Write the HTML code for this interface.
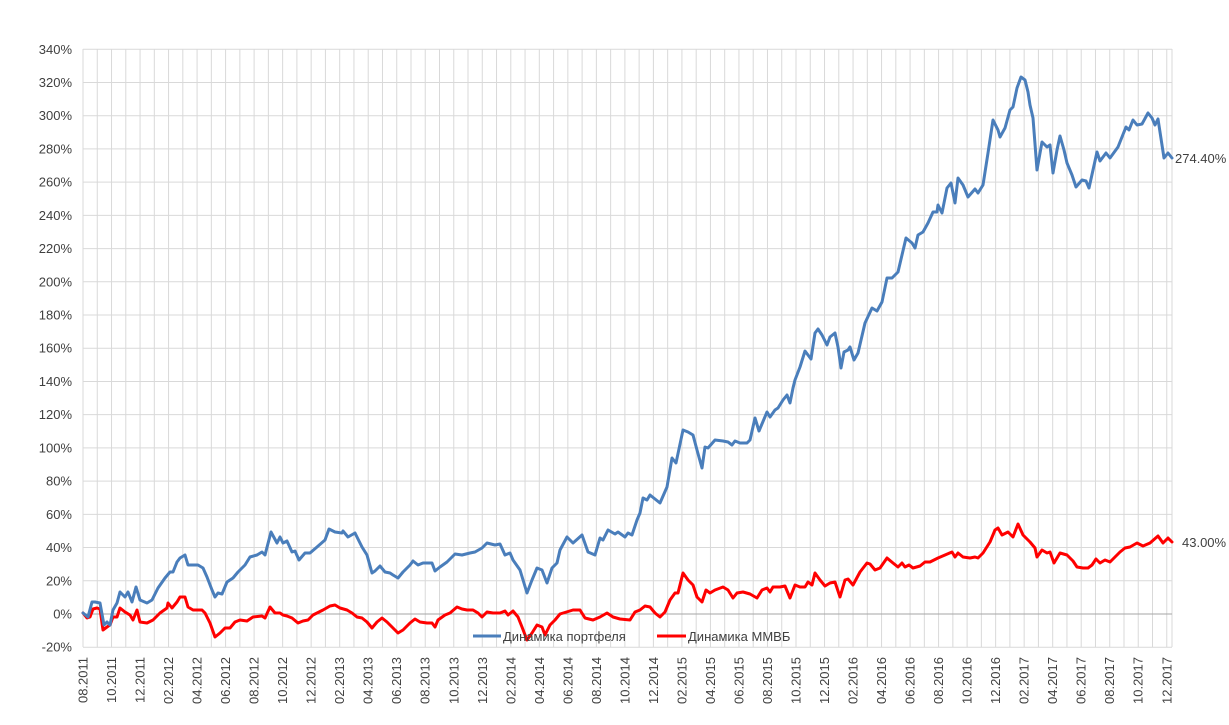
<!DOCTYPE html>
<html><head><meta charset="utf-8"><style>
html,body{margin:0;padding:0;background:#fff;}
svg{display:block;font-family:"Liberation Sans",sans-serif;}
</style></head><body>
<svg width="1229" height="725" viewBox="0 0 1229 725" xmlns="http://www.w3.org/2000/svg">
<g id="grid" stroke="#d9d9d9" stroke-width="1"></g>
<g id="ylab" font-size="13" fill="#404040" text-anchor="end"></g>
<g id="xlab" font-size="13" fill="#404040" text-anchor="end"></g>
<line x1="83" y1="614" x2="1172" y2="614" stroke="#a6a6a6" stroke-width="1"/>
<polyline fill="none" stroke="#ff0000" stroke-width="3" stroke-linejoin="round" stroke-linecap="round" points="
83,613 87,618 90,617 93,609 97,608 100,609 103,630 107,627 110,625 113,617 117,617 120,608 125,612 130,615 133,620 137,610 140,622 147,623 153,620 160,613 167,608 168,603 172,608 177,602 180,597 185,597 188,607 193,610 202,610 205,613 210,623 215,637 220,633 225,628 230,628 235,622 240,620 247,621 253,617 262,616 265,618 270,607 275,613 280,613 283,615 287,616 292,618 298,623 303,621 308,620 313,615 323,610 330,606 335,605 340,608 347,610 352,613 357,617 362,618 367,622 372,628 377,622 382,618 387,622 392,627 398,633 403,630 410,623 415,619 420,622 427,623 432,623 435,627 438,620 445,615 450,613 457,607 462,609 467,610 473,610 478,613 482,617 487,612 493,613 500,613 505,611 508,615 513,611 518,617 522,627 527,640 532,633 537,625 542,627 545,635 550,625 555,620 560,614 573,610 580,610 585,618 593,620 600,617 607,613 613,617 620,619 630,620 635,612 640,610 645,606 650,607 655,613 660,617 665,612 670,600 675,593 678,593 683,573 688,580 693,585 697,597 702,602 706,590 710,593 715,590 723,587 728,590 733,598 737,593 743,592 750,594 757,598 762,590 767,588 770,592 773,587 780,587 785,586 790,598 795,585 800,587 805,587 808,582 812,585 815,573 820,580 825,586 830,583 835,582 840,597 845,580 848,579 853,585 860,572 867,563 870,564 875,570 880,568 887,558 893,563 898,567 902,563 905,567 909,565 913,568 920,566 925,562 930,562 938,558 945,555 952,552 955,557 958,553 963,557 970,558 975,557 978,558 983,553 990,542 995,530 998,528 1002,535 1008,532 1013,537 1018,524 1023,535 1030,542 1035,548 1037,557 1042,550 1047,553 1050,552 1054,563 1060,553 1067,555 1073,561 1077,567 1083,568 1088,568 1092,565 1096,559 1100,563 1105,560 1110,562 1115,557 1120,552 1125,548 1130,547 1137,543 1143,546 1150,543 1158,536 1163,543 1168,538 1172,542"/>
<polyline fill="none" stroke="#4a7ebb" stroke-width="3" stroke-linejoin="round" stroke-linecap="round" points="
83,613 88,617 92,602 95,602 100,603 104,625 107,622 110,625 113,610 117,603 120,592 125,597 128,592 132,602 136,587 140,600 147,603 152,600 158,588 165,578 170,572 173,572 177,562 180,558 185,555 188,565 198,565 203,568 207,577 212,590 215,597 218,593 222,594 227,582 233,578 238,572 245,565 250,557 257,555 262,552 265,555 271,532 277,543 280,537 283,543 287,541 292,552 295,551 299,560 305,553 310,553 317,547 325,540 329,529 335,532 342,533 343,531 348,537 355,533 362,547 367,555 372,573 375,571 380,566 385,572 390,573 393,575 398,578 403,572 410,565 413,561 418,565 423,563 432,563 435,571 440,567 447,562 455,554 462,555 470,553 475,552 482,548 487,543 495,545 500,544 505,555 510,553 513,560 520,570 527,593 532,580 537,568 542,570 547,583 552,568 557,563 560,550 567,537 573,543 582,535 588,552 595,555 600,538 603,540 608,530 615,534 618,532 625,537 628,533 632,535 637,520 640,513 643,498 647,500 650,495 660,503 667,487 672,458 676,463 683,430 688,432 693,435 697,450 702,468 705,447 708,448 715,440 723,441 728,442 732,445 735,441 740,443 747,443 750,440 755,418 759,431 767,412 770,417 775,410 778,408 783,400 787,395 790,403 793,388 795,380 800,367 805,351 811,359 815,333 818,329 822,335 827,345 830,337 835,333 838,347 841,368 844,352 848,350 850,347 854,360 858,353 865,323 872,308 877,311 882,302 887,278 892,278 898,272 906,238 912,243 915,248 918,235 923,232 928,223 933,212 937,212 938,205 942,213 947,188 951,183 955,203 958,178 963,185 968,197 975,189 978,193 983,185 988,153 993,120 998,130 1000,137 1005,128 1010,110 1013,107 1017,88 1021,77 1025,80 1028,92 1030,105 1033,118 1037,170 1042,142 1047,147 1050,145 1053,173 1057,150 1060,136 1064,150 1067,163 1072,175 1076,187 1082,180 1086,181 1089,188 1097,152 1100,161 1106,153 1110,158 1118,147 1126,127 1129,130 1133,120 1137,125 1142,124 1148,113 1152,118 1155,125 1158,119 1164,158 1168,153 1172,158"/>
<g font-size="13" fill="#404040">
<line x1="473" y1="636" x2="501" y2="636" stroke="#4a7ebb" stroke-width="3"/>
<text x="503" y="641">Динамика портфеля</text>
<line x1="657" y1="636" x2="686" y2="636" stroke="#ff0000" stroke-width="3"/>
<text x="688" y="641">Динамика ММВБ</text>
</g>
<g font-size="13" fill="#404040">
<text x="1175" y="163">274.40%</text>
<text x="1182" y="547">43.00%</text>
</g>
</svg>
<script>
(function(){
var ns="http://www.w3.org/2000/svg";
var g=document.getElementById("grid"),yl=document.getElementById("ylab"),xl=document.getElementById("xlab");
function el(n,a,p){var e=document.createElementNS(ns,n);for(var k in a)e.setAttribute(k,a[k]);p.appendChild(e);return e;}
for(var v=-20;v<=340;v+=20){var y=614-v*1.661;
 if(v!==0)el("line",{x1:83,x2:1172,y1:y,y2:y},g);
 var t=el("text",{x:72,y:y+4.5},yl);t.textContent=v+"%";}
for(var m=0;m<=76;m++){var x=83+m*14.26;el("line",{x1:x,x2:x,y1:49,y2:647},g);
 if(m%2===0){var mon=8+m,yr=2011+Math.floor((mon-1)/12);mon=((mon-1)%12)+1;
  var s=(mon<10?"0":"")+mon+"."+yr;
  var t=el("text",{x:0,y:0,transform:"translate("+(x+4.5)+",657) rotate(-90)"},xl);t.textContent=s;}}
el("line",{x1:1172,x2:1172,y1:49,y2:647},g);
})();
</script>
</body></html>
